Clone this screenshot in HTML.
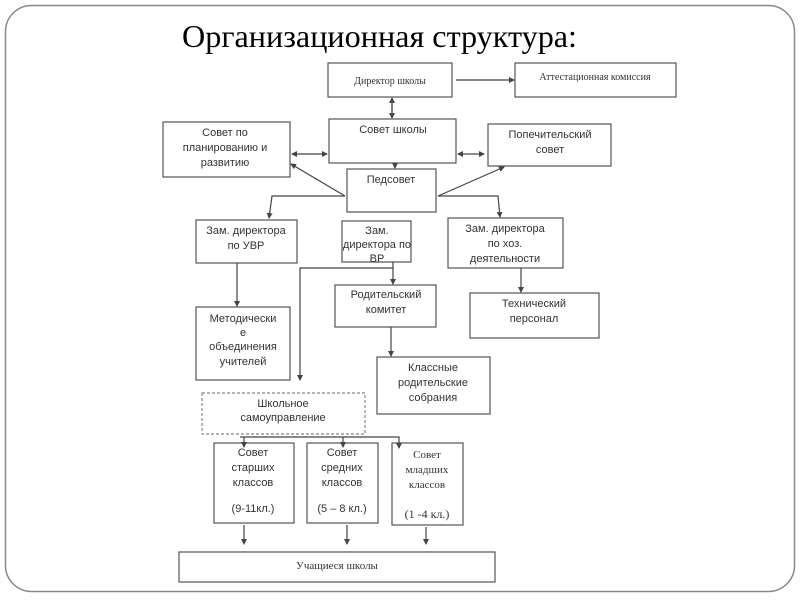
<!DOCTYPE html>
<html><head><meta charset="utf-8"><style>
body{margin:0;background:#fff;}
svg text{font-family:"Liberation Sans",sans-serif;font-size:11px;fill:#333;}
.s{font-family:"Liberation Serif",serif !important;}
</style></head><body>
<svg width="800" height="600" xmlns="http://www.w3.org/2000/svg">
<defs><marker id="a" markerWidth="6" markerHeight="6" refX="5" refY="3" orient="auto" markerUnits="userSpaceOnUse"><path d="M0,0 L6,3 L0,6z" fill="#444"/></marker></defs>
<rect x="5.5" y="5.5" width="789" height="586" rx="26" fill="none" stroke="#888" stroke-width="1.5"/>
<text x="182" y="47" class="s" style="font-size:32px;fill:#000" textLength="395" lengthAdjust="spacingAndGlyphs">Организационная структура:</text>
<g fill="#fff" stroke="#555" stroke-width="1.2">
<rect x="328" y="63" width="124" height="34"/>
<rect x="515" y="63" width="161" height="34"/>
<rect x="329" y="119" width="127" height="44"/>
<rect x="163" y="122" width="127" height="55"/>
<rect x="488" y="124" width="123" height="42"/>
<rect x="347" y="169" width="89" height="43"/>
<rect x="196" y="220" width="101" height="43"/>
<rect x="342" y="221" width="69" height="41"/>
<rect x="448" y="218" width="115" height="50"/>
<rect x="196" y="307" width="94" height="73"/>
<rect x="335" y="285" width="101" height="42"/>
<rect x="470" y="293" width="129" height="45"/>
<rect x="377" y="357" width="113" height="57"/>
<rect x="202" y="393" width="163" height="41" stroke="#888" stroke-dasharray="3,2"/>
<rect x="214" y="443" width="80" height="80"/>
<rect x="307" y="443" width="71" height="80"/>
<rect x="392" y="443" width="71" height="82"/>
<rect x="179" y="552" width="316" height="30"/>
</g>
<g stroke="#444" stroke-width="1.2" fill="none" marker-end="url(#a)">
<line x1="456" y1="80" x2="514" y2="80"/>
<line x1="392" y1="104" x2="392" y2="118"/><line x1="392" y1="112" x2="392" y2="98"/>
<line x1="310" y1="154" x2="292" y2="154"/><line x1="310" y1="154" x2="327" y2="154"/>
<line x1="470" y1="154" x2="458" y2="154"/><line x1="470" y1="154" x2="484" y2="154"/>
<line x1="395" y1="166" x2="395" y2="168"/>
<line x1="345" y1="196" x2="291" y2="164"/>
<line x1="438" y1="196" x2="504" y2="167"/>
<polyline points="345,196 272,196 269,218"/>
<polyline points="438,196 498,196 500,217"/>
<line x1="237" y1="263" x2="237" y2="306"/>
<line x1="393" y1="262" x2="393" y2="284"/>
<polyline points="393,268 300,268 300,380"/>
<line x1="521" y1="268" x2="521" y2="292"/>
<line x1="391" y1="327" x2="391" y2="356"/>
<line x1="244" y1="437" x2="244" y2="447"/>
<line x1="343" y1="437" x2="343" y2="447"/>
<polyline points="240,437 399,437 399,448"/>
<line x1="244" y1="525" x2="244" y2="544"/>
<line x1="347" y1="525" x2="347" y2="544"/>
<line x1="426" y1="527" x2="426" y2="544"/>
</g>
<g text-anchor="middle">
<text x="390" y="84" class="s" style="font-size:10px">Директор школы</text>
<text x="595" y="80" class="s" style="font-size:10px">Аттестационная комиссия</text>
<text x="393" y="133">Совет школы</text>
<text x="225" y="136">Совет по</text><text x="225" y="151">планированию и</text><text x="225" y="166">развитию</text>
<text x="550" y="138">Попечительский</text><text x="550" y="153">совет</text>
<text x="391" y="183">Педсовет</text>
<text x="246" y="234">Зам. директора</text><text x="246" y="249">по УВР</text>
<text x="377" y="234">Зам.</text><text x="377" y="248">директора по</text><text x="377" y="262">ВР</text>
<text x="505" y="232">Зам. директора</text><text x="505" y="247">по хоз.</text><text x="505" y="262">деятельности</text>
<text x="243" y="322">Методически</text><text x="243" y="336">е</text><text x="243" y="350">объединения</text><text x="243" y="365">учителей</text>
<text x="386" y="298">Родительский</text><text x="386" y="313">комитет</text>
<text x="534" y="307">Технический</text><text x="534" y="322">персонал</text>
<text x="433" y="371">Классные</text><text x="433" y="386">родительские</text><text x="433" y="401">собрания</text>
<text x="283" y="407">Школьное</text><text x="283" y="421">самоуправление</text>
<text x="253" y="456">Совет</text><text x="253" y="471">старших</text><text x="253" y="486">классов</text><text x="253" y="512">(9-11кл.)</text>
<text x="342" y="456">Совет</text><text x="342" y="471">средних</text><text x="342" y="486">классов</text><text x="342" y="512">(5 – 8 кл.)</text>
<text x="427" y="458" class="s">Совет</text><text x="427" y="473" class="s">младших</text><text x="427" y="488" class="s">классов</text><text x="427" y="518" class="s" style="font-size:12px">(1 -4 кл.)</text>
<text x="337" y="569" class="s">Учащиеся школы</text>
</g>
</svg>
</body></html>
